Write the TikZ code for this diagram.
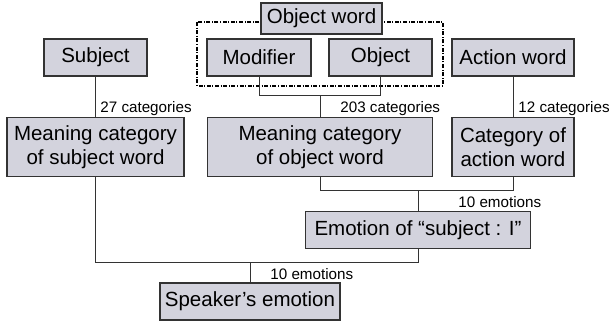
\documentclass[tikz,border=0pt]{standalone}
\usepackage{fontspec}
\setmainfont{Liberation Sans}
\usetikzlibrary{positioning}
\definecolor{boxfill}{RGB}{211,211,221}
\definecolor{boxline}{RGB}{51,51,51}

\begin{document}
\begin{tikzpicture}[
    x=0.5pt, y=-0.5pt,
    wordbox/.style={rectangle, draw=boxline, line width=0.6pt, fill=boxfill, minimum height=18.5pt, align=center, inner sep=1pt, font=\fontsize{10.25}{11.8}\selectfont},
    link/.style={draw=boxline, line width=0.5pt},
    frame/.style={draw=black, line width=0.6pt, dash pattern=on 2pt off 0.8pt on 0.5pt off 0.8pt},
    tag/.style={anchor=base west, inner sep=0pt, font=\fontsize{7.6}{9}\selectfont}
]
    \useasboundingbox (0,0) rectangle (611,324);

    % Object word group frame
    \draw[frame] (197,22) rectangle (443,86);

    % word boxes - top row
    \node[wordbox, minimum width=51.5pt] (subject) at (95.5, 57.5) {Subject};
    \node[wordbox, minimum width=52pt] (modifier) at (259, 57.5) {Modifier};
    \node[wordbox, minimum width=51.5pt] (object) at (380.5, 57.5) {Object};
    \node[wordbox, minimum width=61pt] (action) at (513, 57.5) {Action word};
    \node[wordbox, minimum width=60.5pt, minimum height=15.5pt] (objword) at (321.5, 18.5) {Object word};

    % category boxes
    \node[wordbox, minimum width=88.5pt, minimum height=29.5pt] (meansubj) at (95.5, 147) {Meaning category\\of subject word};
    \node[wordbox, minimum width=112.5pt, minimum height=29.5pt] (meanobj) at (320, 147) {Meaning category\\of object word};
    \node[wordbox, minimum width=61pt, minimum height=29.5pt] (catact) at (513, 147) {Category of\\action word};

    % emotion boxes
    \node[wordbox, minimum width=112.5pt] (emotion) at (418, 230) {Emotion of “subject : I”};
    \node[wordbox, minimum width=90pt] (speaker) at (250, 301.5) {Speaker’s emotion};

    % junctions
    \coordinate (objjoin) at (320, 96);
    \coordinate (emojoin) at (418, 191);
    \coordinate (spkjoin) at (250, 263);

    % connectors
    \draw[link] (subject) -- (meansubj);
    \draw[link] (modifier.south) |- (objjoin);
    \draw[link] (object.south) |- (objjoin);
    \draw[link] (objjoin) -- (meanobj);
    \draw[link] (action) -- (catact);
    \draw[link] (meanobj.south) |- (emojoin);
    \draw[link] (catact.south) |- (emojoin);
    \draw[link] (emojoin) -- (emotion);
    \draw[link] (meansubj.south) |- (spkjoin);
    \draw[link] (emotion.south) |- (spkjoin);
    \draw[link] (spkjoin) -- (speaker);

    % counts
    \node[tag] (subjcount) at (100, 113) {27 categories};
    \node[tag] (objcount) at (340, 113) {203 categories};
    \node[tag] (actcount) at (518, 113) {12 categories};
    \node[tag] (emocount) at (458, 207.5) {10 emotions};
    \node[tag] (spkcount) at (270, 279.5) {10 emotions};
\end{tikzpicture}
\end{document}
